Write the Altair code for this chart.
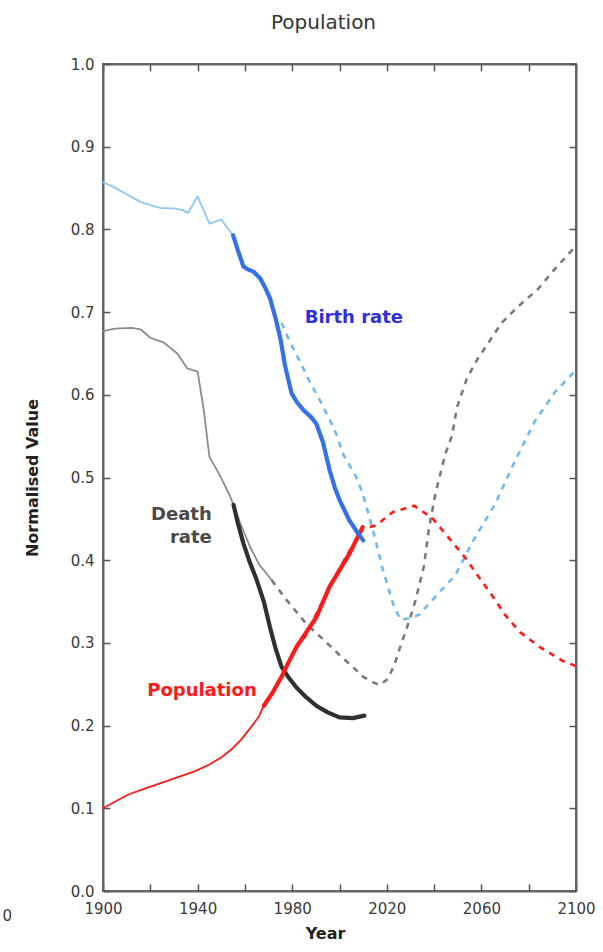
import altair as alt
import pandas as pd

# ---- Birth rate ----
birth_hist_years = [1900, 1904, 1909, 1916, 1924, 1931, 1934, 1936, 1940, 1945, 1950, 1955]
birth_hist_vals = [0.857, 0.852, 0.844, 0.833, 0.826, 0.825, 0.823, 0.820, 0.840, 0.807, 0.812, 0.793]

birth_obs_years = [1955, 1957, 1959.4, 1961, 1963.6, 1966.4, 1968.5, 1970.6, 1973, 1975, 1977,
                   1979.7, 1982, 1984.6, 1988, 1990.2, 1993, 1995.8, 1998, 2000, 2004.2, 2007, 2010]
birth_obs_vals = [0.793, 0.775, 0.755, 0.752, 0.749, 0.741, 0.730, 0.717, 0.692, 0.668, 0.635,
                  0.602, 0.591, 0.582, 0.573, 0.565, 0.543, 0.509, 0.488, 0.473, 0.448, 0.436, 0.424]

birth_proj_years = [1975.5, 1979, 1983, 1987, 1991.6, 1995.8, 1998.6, 2001.4, 2004.2, 2007, 2009.8,
                    2014, 2018.2, 2023.1, 2025.9, 2030, 2033.6, 2040.6, 2049, 2056, 2065.8, 2074.2,
                    2082.6, 2091, 2100]
birth_proj_vals = [0.687, 0.664, 0.642, 0.618, 0.594, 0.570, 0.553, 0.529, 0.515, 0.501, 0.481,
                   0.438, 0.390, 0.343, 0.328, 0.330, 0.334, 0.356, 0.382, 0.421, 0.468, 0.520,
                   0.568, 0.603, 0.630]

# ---- Death rate ----
death_hist_years = [1900, 1905, 1912, 1916, 1920, 1925.8, 1931.4, 1935.6, 1940, 1942.6, 1945,
                    1949, 1953.8, 1958, 1962.2, 1966, 1971.3]
death_hist_vals = [0.677, 0.680, 0.681, 0.679, 0.669, 0.663, 0.650, 0.632, 0.628, 0.582, 0.525,
                   0.505, 0.477, 0.445, 0.416, 0.395, 0.376]

death_obs_years = [1955.2, 1957, 1959.4, 1962, 1965, 1968, 1970.6, 1973, 1975.5, 1978, 1981.8,
                   1986, 1990.2, 1995, 2000, 2005.6, 2010.5]
death_obs_vals = [0.467, 0.445, 0.420, 0.398, 0.376, 0.350, 0.319, 0.293, 0.271, 0.260, 0.246,
                  0.234, 0.224, 0.216, 0.210, 0.209, 0.212]

death_proj_years = [1971.3, 1977.6, 1986, 1995.8, 2000.5, 2005.6, 2010, 2014.5, 2017, 2020.3, 2023,
                    2025.2, 2029.4, 2032.2, 2035.7, 2037.8, 2040.6, 2044.8, 2047.6, 2049.7, 2053.9,
                    2058.1, 2063, 2068.6, 2075.6, 2084, 2091, 2100]
death_proj_vals = [0.376, 0.352, 0.323, 0.297, 0.284, 0.271, 0.259, 0.252, 0.249, 0.256, 0.272,
                   0.291, 0.326, 0.352, 0.393, 0.438, 0.481, 0.529, 0.551, 0.585, 0.620,
                   0.642, 0.663, 0.687, 0.707, 0.728, 0.752, 0.780]

# ---- Population ----
pop_hist_years = [1900, 1905, 1911, 1918, 1925, 1932, 1939, 1945, 1950.3, 1955, 1958.7, 1962,
                  1965.7, 1968]
pop_hist_vals = [0.100, 0.108, 0.117, 0.124, 0.131, 0.138, 0.145, 0.153, 0.162, 0.173, 0.184,
                 0.196, 0.210, 0.224]

pop_obs_years = [1968, 1971.3, 1975.5, 1978, 1981.8, 1986, 1990.2, 1995.8, 2000, 2004.2, 2009.8]
pop_obs_vals = [0.224, 0.238, 0.259, 0.274, 0.295, 0.313, 0.331, 0.368, 0.388, 0.408, 0.440]

pop_proj_years = [1985, 1990, 1995, 2000, 2005, 2009.8, 2015.4, 2022.4, 2031.5, 2039.2, 2046.2,
                  2053.2, 2058.8, 2064.4, 2070, 2076.3, 2084.7, 2094.5, 2100]
pop_proj_vals = [0.305, 0.334, 0.362, 0.390, 0.415, 0.438, 0.442, 0.458, 0.466, 0.451, 0.427,
                 0.403, 0.380, 0.358, 0.334, 0.313, 0.295, 0.278, 0.272]

# ---- axis ticks ----
x_ticks = [1900, 1920, 1940, 1960, 1980, 2000, 2020, 2040, 2060, 2080, 2100]
y_ticks = [0.0, 0.1, 0.2, 0.3, 0.4, 0.5, 0.6, 0.7, 0.8, 0.9, 1.0]

FONT = "DejaVu Sans"
PLOT_W, PLOT_H = 473, 827
X_SCALE = alt.Scale(domain=[1900, 2100], nice=False, zero=False)
Y_SCALE = alt.Scale(domain=[0, 1], nice=False)

LIGHT_BLUE = "#8cc8f5"
BLUE = "#3370ea"
BLUE_DASH = "#72b9ef"
GREY = "#8c8c8c"
DARK = "#303030"
GREY_DASH = "#7a7a7a"
RED = "#ff1a1a"
FRAME = "#666666"
DASH = [6, 6]


def series(years, vals):
    return pd.DataFrame({"year": years, "value": vals, "i": list(range(len(years)))})


def line(df, color, width, dash=None, x_axis=None, y_axis=None):
    kw = dict(color=color, strokeWidth=width, strokeCap="round", strokeJoin="round")
    if dash:
        kw["strokeDash"] = dash
        kw["strokeCap"] = "butt"
    return alt.Chart(df).mark_line(**kw).encode(
        x=alt.X("year:Q", scale=X_SCALE, axis=x_axis),
        y=alt.Y("value:Q", scale=Y_SCALE, axis=y_axis),
        order="i:Q",
    )


# Frame edges: axis domain lines on all four sides, no ticks
edge_style = dict(domain=True, domainColor=FRAME, domainWidth=2, ticks=False, grid=False,
                  offset=0)
# Inward-pointing ticks: a tick-only axis pulled inside by its own tick length
tick_style = dict(domain=False, labels=False, title=None, tickSize=7, offset=-7,
                  tickColor="#555555", tickWidth=1.5, grid=False)

bottom_axis = alt.Axis(values=x_ticks, format="d", orient="bottom", labelFlush=False,
                       labelExpr="(datum.value - 1900) % 40 == 0 ? datum.label : ''",
                       labelFont=FONT, labelFontSize=15, labelColor="#3a3a3a", labelPadding=10,
                       title="Year", titleFont=FONT, titleFontSize=16, titleFontWeight="bold",
                       titleColor="#222222", titlePadding=9, titleX=222, **edge_style)
left_axis = alt.Axis(values=y_ticks, format=".1f", orient="left", labelFlush=False,
                     labelFont=FONT, labelFontSize=15, labelColor="#3a3a3a", labelPadding=9,
                     title="Normalised Value", titleFont=FONT, titleFontSize=16,
                     titleFontWeight="bold", titleColor="#222222", titlePadding=30,
                     **edge_style)
top_edge = alt.Axis(values=x_ticks, orient="top", labels=False, title=None, **edge_style)
right_edge = alt.Axis(values=y_ticks, orient="right", labels=False, title=None, **edge_style)

bottom_ticks = alt.Axis(values=x_ticks, orient="bottom", **tick_style)
left_ticks = alt.Axis(values=y_ticks, orient="left", **tick_style)
top_ticks = alt.Axis(values=x_ticks, orient="top", **tick_style)
right_ticks = alt.Axis(values=y_ticks, orient="right", **tick_style)

layers = [
    line(series(birth_hist_years, birth_hist_vals), LIGHT_BLUE, 1.8, x_axis=bottom_axis, y_axis=left_axis),
    line(series(death_hist_years, death_hist_vals), GREY, 1.8, x_axis=top_edge, y_axis=right_edge),
    line(series(pop_hist_years, pop_hist_vals), RED, 1.8, x_axis=bottom_ticks, y_axis=left_ticks),
    line(series(birth_proj_years, birth_proj_vals), BLUE_DASH, 2.6, DASH, x_axis=top_ticks, y_axis=right_ticks),
    line(series(death_proj_years, death_proj_vals), GREY_DASH, 2.6, DASH),
    line(series(pop_proj_years, pop_proj_vals), RED, 2.6, DASH),
    line(series(death_obs_years, death_obs_vals), DARK, 4.2),
    line(series(pop_obs_years, pop_obs_vals), RED, 4.2),
    line(series(birth_obs_years, birth_obs_vals), BLUE, 4.2),
]

# Series labels placed in data space
label_df = pd.DataFrame({
    "year": [1985.3, 1946.0, 1965.0],
    "value": [0.693, 0.455, 0.242],
    "text": ["Birth rate", "Death\nrate", "Population"],
    "color": ["#2f2fe0", "#4a4a4a", "#ff1a1a"],
    "align": ["left", "right", "right"],
})

for _, r in label_df.iterrows():
    layers.append(
        alt.Chart(pd.DataFrame([r])).mark_text(
            font=FONT, fontSize=18, fontWeight="bold", color=r["color"], align=r["align"],
            baseline="middle", lineBreak="\n", lineHeight=23,
        ).encode(
            x=alt.X("year:Q", scale=X_SCALE, axis=None),
            y=alt.Y("value:Q", scale=Y_SCALE, axis=None),
            text="text:N",
        )
    )

# Edge of the neighbouring panel's year label
layers.append(
    alt.Chart(pd.DataFrame({"t": ["0"]})).mark_text(
        font=FONT, fontSize=15, color="#3a3a3a", align="right", baseline="middle",
    ).encode(x=alt.value(-91), y=alt.value(852), text="t:N")
)

chart = alt.layer(*layers).resolve_axis(x="independent", y="independent").properties(
    width=PLOT_W,
    height=PLOT_H,
    background="white",
    autosize=alt.AutoSizeParams(type="none"),
    padding={"left": 103, "top": 64, "right": 27, "bottom": 61},
    title=alt.TitleParams("Population", font=FONT, fontSize=20, fontWeight="normal",
                          color="#333333", anchor="middle", offset=24, dx=-16),
).configure_view(stroke=FRAME, strokeWidth=2)

chart.save("out.html", embed_options={"renderer": "svg", "actions": False})
